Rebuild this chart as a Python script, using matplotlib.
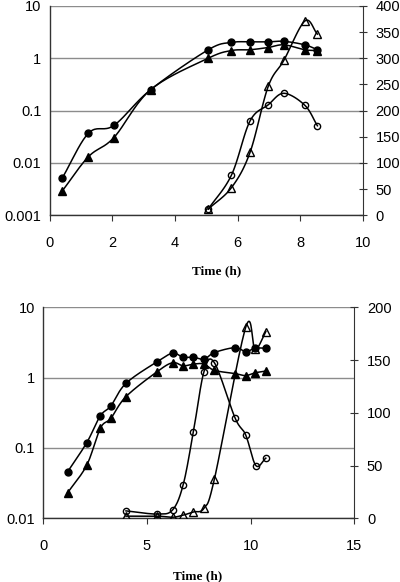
import numpy as np
import matplotlib.pyplot as plt

plt.rcParams['font.family'] = ['Liberation Sans', 'DejaVu Sans']

# ---- top panel (left axis: log, right axis: linear) ----
t_top = [0.4, 1.24, 2.05, 3.22, 5.06, 5.80, 6.39, 6.97, 7.47, 8.14, 8.54]
circ_fill_top = [0.0051, 0.037, 0.052, 0.25, 1.45, 2.0, 2.05, 2.05, 2.1, 1.8, 1.45]
tri_fill_top = [0.0029, 0.0132, 0.0305, 0.25, 1.0, 1.4, 1.45, 1.6, 1.8, 1.45, 1.4]
t_top_r = [5.06, 5.80, 6.39, 6.97, 7.47, 8.14, 8.54]
tri_open_top = [12, 53, 120, 246, 296, 371, 346]
circ_open_top = [12, 77, 180, 211, 233, 210, 171]

# ---- bottom panel ----
t_bot = [1.18, 2.10, 2.75, 3.26, 3.99, 5.50, 6.24, 6.75, 7.24, 7.75, 8.25,
         9.25, 9.76, 10.21, 10.73]
circ_fill_bot = [0.046, 0.119, 0.285, 0.396, 0.83, 1.69, 2.22, 1.95, 1.95,
                 1.83, 2.27, 2.67, 2.34, 2.62, 2.62]
tri_fill_bot = [0.0231, 0.057, 0.19, 0.264, 0.537, 1.22, 1.63, 1.47, 1.56,
                1.56, 1.27, 1.14, 1.07, 1.17, 1.24]
t_bot_c = [3.99, 5.50, 6.24, 6.75, 7.24, 7.75, 8.25, 9.25, 9.76, 10.25, 10.73]
circ_open_bot = [7, 4, 8, 32, 82, 139, 147.5, 95, 79, 50, 57]
t_bot_t = [3.99, 5.50, 6.24, 6.75, 7.24, 7.75, 8.25, 9.76, 10.21, 10.73]
tri_open_bot = [2, 2, 1, 3, 6, 9.5, 37, 181, 160, 177]


def smooth(x, y, log=False, n=20):
    # Catmull-Rom path through the points, like Excel's smoothed lines
    x = np.asarray(x, float)
    y = np.asarray(y, float)
    if log:
        y = np.log10(y)
    px = np.concatenate([[2 * x[0] - x[1]], x, [2 * x[-1] - x[-2]]])
    py = np.concatenate([[2 * y[0] - y[1]], y, [2 * y[-1] - y[-2]]])
    xs, ys = [], []
    s = np.linspace(0, 1, n, endpoint=False)
    for i in range(1, len(px) - 2):
        for p, out in ((px, xs), (py, ys)):
            p0, p1, p2, p3 = p[i - 1], p[i], p[i + 1], p[i + 2]
            out.extend(0.5 * (2 * p1 + (-p0 + p2) * s
                              + (2 * p0 - 5 * p1 + 4 * p2 - p3) * s ** 2
                              + (-p0 + 3 * p1 - 3 * p2 + p3) * s ** 3))
    xs.append(x[-1])
    ys.append(y[-1])
    ys = np.array(ys)
    if log:
        ys = 10 ** ys
    return np.array(xs), ys


def series(ax, x, y, marker, filled, log=False, ms=5):
    sx, sy = smooth(x, y, log)
    ax.plot(sx, sy, color='black', lw=1.1, zorder=3)
    ax.plot(x, y, ls='none', marker=marker, ms=ms,
            mfc='black' if filled else 'none', mec='black', mew=1.0,
            zorder=4)


def setup(ax, ax2, ymin, xmax, xstep, rmax):
    ax.set_yscale('log')
    ax.set_ylim(ymin, 10)
    ax.set_xlim(0, xmax)
    dec = [10.0 ** k for k in range(int(np.log10(ymin)), 2)]
    ax.set_yticks(dec)
    ax.set_yticklabels(['{:g}'.format(d) for d in dec])
    ax.minorticks_off()
    ax.set_xticks(np.arange(0, xmax + 0.1, xstep))
    ax.grid(axis='y', color='#8c8c8c', lw=1.0)
    ax.set_axisbelow(True)
    ax.spines['top'].set_visible(False)
    ax.spines['right'].set_visible(False)
    ax2.spines['top'].set_visible(False)
    ax2.spines['left'].set_visible(False)
    ax2.spines['bottom'].set_visible(False)
    for sp in ('left', 'bottom'):
        ax.spines[sp].set_color('#333333')
        ax.spines[sp].set_linewidth(1.0)
    ax2.spines['right'].set_color('#333333')
    ax2.set_ylim(0, rmax)
    ax2.set_yticks(np.arange(0, rmax + 1, 50))
    ax.tick_params(axis='y', length=0, pad=6, labelsize=10.5)
    ax.tick_params(axis='x', length=4, direction='out', pad=11,
                   labelsize=10.5, color='#333333')
    ax2.tick_params(axis='y', length=6, direction='inout', pad=6,
                    labelsize=10.5, color='#333333')


fig = plt.figure(figsize=(4.0, 5.82), dpi=100)

# top
ax = fig.add_axes([0.124, 0.630, 0.784, 0.360])
ax2 = ax.twinx()
setup(ax, ax2, 0.001, 10, 2, 400)
series(ax, t_top, circ_fill_top, 'o', True, log=True)
series(ax, t_top, tri_fill_top, '^', True, log=True, ms=5.5)
series(ax2, t_top_r, tri_open_top, '^', False, ms=6)
series(ax2, t_top_r, circ_open_top, 'o', False, ms=4.5)
fig.text(217 / 400, 1 - 271 / 582, 'Time (h)', ha='center', va='center',
         family=['Liberation Serif'], weight='bold', fontsize=9.5)

# bottom
bx = fig.add_axes([0.108, 0.1095, 0.778, 0.3625])
bx2 = bx.twinx()
setup(bx, bx2, 0.01, 15, 5, 200)
series(bx, t_bot, circ_fill_bot, 'o', True, log=True)
series(bx, t_bot, tri_fill_bot, '^', True, log=True, ms=5.5)
series(bx2, t_bot_c, circ_open_bot, 'o', False, ms=4.5)
series(bx2, t_bot_t, tri_open_bot, '^', False, ms=6)
fig.text(198 / 400, 1 - 576 / 582, 'Time (h)', ha='center', va='center',
         family=['Liberation Serif'], weight='bold', fontsize=9.5)

fig.savefig('out.png', dpi=100)
